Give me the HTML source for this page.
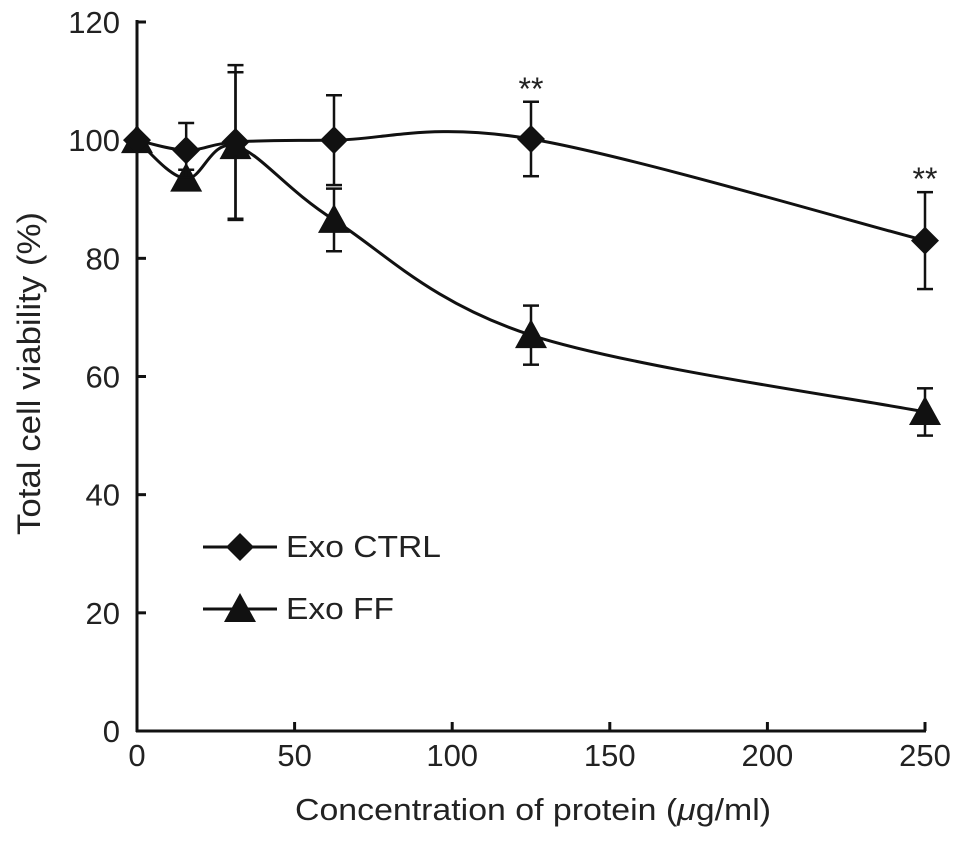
<!DOCTYPE html>
<html><head><meta charset="utf-8"><style>
body{margin:0;background:#fff}
text{font-family:"Liberation Sans",Arial,sans-serif;fill:#222}
</style></head><body>
<svg id="chart" width="969" height="840" xmlns="http://www.w3.org/2000/svg">
<g id="axes"></g><g id="plot"></g><g id="legend"></g>
</svg>
<script>
const xValues=[0,15.6,31.25,62.5,125,250];
const ctrlValues=[100,98.3,99.7,100,100.2,83];
const ctrlErrors=[0,4.6,13,7.6,6.3,8.2];
const ffValues=[100,93.5,99,86.5,67,54];
const ffErrors=[0,1.5,12.5,5.3,5,4];
const xTicks=[0,50,100,150,200,250];
const yTicks=[0,20,40,60,80,100,120];
const NS="http://www.w3.org/2000/svg";
const X=v=>137+v*(925-137)/250;
const Y=v=>731-v*(731-22)/120;
function mk(t,a,p){const e=document.createElementNS(NS,t);for(const k in a)e.setAttribute(k,a[k]);p.appendChild(e);return e;}
const ax=document.getElementById('axes'),pl=document.getElementById('plot'),lg=document.getElementById('legend');
let l=mk('line',{x1:137,y1:20,x2:137,y2:732,stroke:'#111','stroke-width':3},ax);

l=mk('line',{x1:136,y1:731,x2:926,y2:731,stroke:'#111','stroke-width':3},ax);

yTicks.forEach(v=>{mk('line',{x1:137,y1:Y(v),x2:146,y2:Y(v),stroke:'#111','stroke-width':3},ax);
 const t=mk('text',{x:120,y:Y(v)+11,'text-anchor':'end','font-size':31},ax);t.textContent=v;
 });
xTicks.forEach(v=>{mk('line',{x1:X(v),y1:731,x2:X(v),y2:722,stroke:'#111','stroke-width':3},ax);
 const t=mk('text',{x:X(v),y:766,'text-anchor':'middle','font-size':31},ax);t.textContent=v;
 });
let t=mk('text',{x:295,y:820,'font-size':31,textLength:476,lengthAdjust:'spacingAndGlyphs'},ax);
t.innerHTML='Concentration of protein (<tspan font-style="italic">μ</tspan>g/ml)';

t=mk('text',{x:0,y:0,'font-size':32,textLength:323,lengthAdjust:'spacingAndGlyphs',transform:'translate(40,535) rotate(-90)'},ax);
t.textContent='Total cell viability (%)';

function smooth(pts){let d='M'+pts[0][0]+','+pts[0][1];
 for(let i=0;i<pts.length-1;i++){const p0=pts[Math.max(i-1,0)],p1=pts[i],p2=pts[i+1],p3=pts[Math.min(i+2,pts.length-1)];
  const k=0.17;d+=` C${p1[0]+(p2[0]-p0[0])*k},${p1[1]+(p2[1]-p0[1])*k} ${p2[0]-(p3[0]-p1[0])*k},${p2[1]-(p3[1]-p1[1])*k} ${p2[0]},${p2[1]}`;}return d;}
function diamond(cx,cy,p){return mk('path',{d:`M${cx},${cy-14}L${cx+14},${cy}L${cx},${cy+14}L${cx-14},${cy}Z`,fill:'#111'},p);}
function tri(cx,cy,p){return mk('path',{d:`M${cx},${cy-16}L${cx+16},${cy+13}L${cx-16},${cy+13}Z`,fill:'#111'},p);}
function series(vals,errs,name,marker){
 const pts=xValues.map((x,i)=>[X(x),Y(vals[i])]);
 let p=mk('path',{d:smooth(pts),fill:'none',stroke:'#111','stroke-width':3},pl);
 
 xValues.forEach((x,i)=>{if(errs[i]>0){const g=mk('g',{stroke:'#111','stroke-width':2.5},pl);
  
  const cx=X(x),a=Y(vals[i]+errs[i]),b=Y(vals[i]-errs[i]);
  mk('line',{x1:cx,y1:a,x2:cx,y2:b},g);mk('line',{x1:cx-8,y1:a,x2:cx+8,y2:a},g);mk('line',{x1:cx-8,y1:b,x2:cx+8,y2:b},g);}});
 xValues.forEach((x,i)=>{const m=marker(X(x),Y(vals[i]),pl);
  });
}
series(ffValues,ffErrors,'exo-ff',tri);
series(ctrlValues,ctrlErrors,'exo-ctrl',diamond);
[4,5].forEach(i=>{const s=mk('text',{x:X(xValues[i]),y:Y(ctrlValues[i]+ctrlErrors[i])-2,'text-anchor':'middle','font-size':32},pl);
 s.textContent='**';});
[[547,'Exo CTRL',155,diamond,'legend-exo-ctrl'],[609,'Exo FF',108,tri,'legend-exo-ff']].forEach(([y,lab,w,m,n])=>{
 const g=mk('g',{},lg);
 mk('line',{x1:203,y1:y,x2:277,y2:y,stroke:'#111','stroke-width':3},g);m(240,y,g);
 const tt=mk('text',{x:286,y:y+10,'font-size':31,textLength:w,lengthAdjust:'spacingAndGlyphs'},g);tt.textContent=lab;});
</script>
</body></html>
